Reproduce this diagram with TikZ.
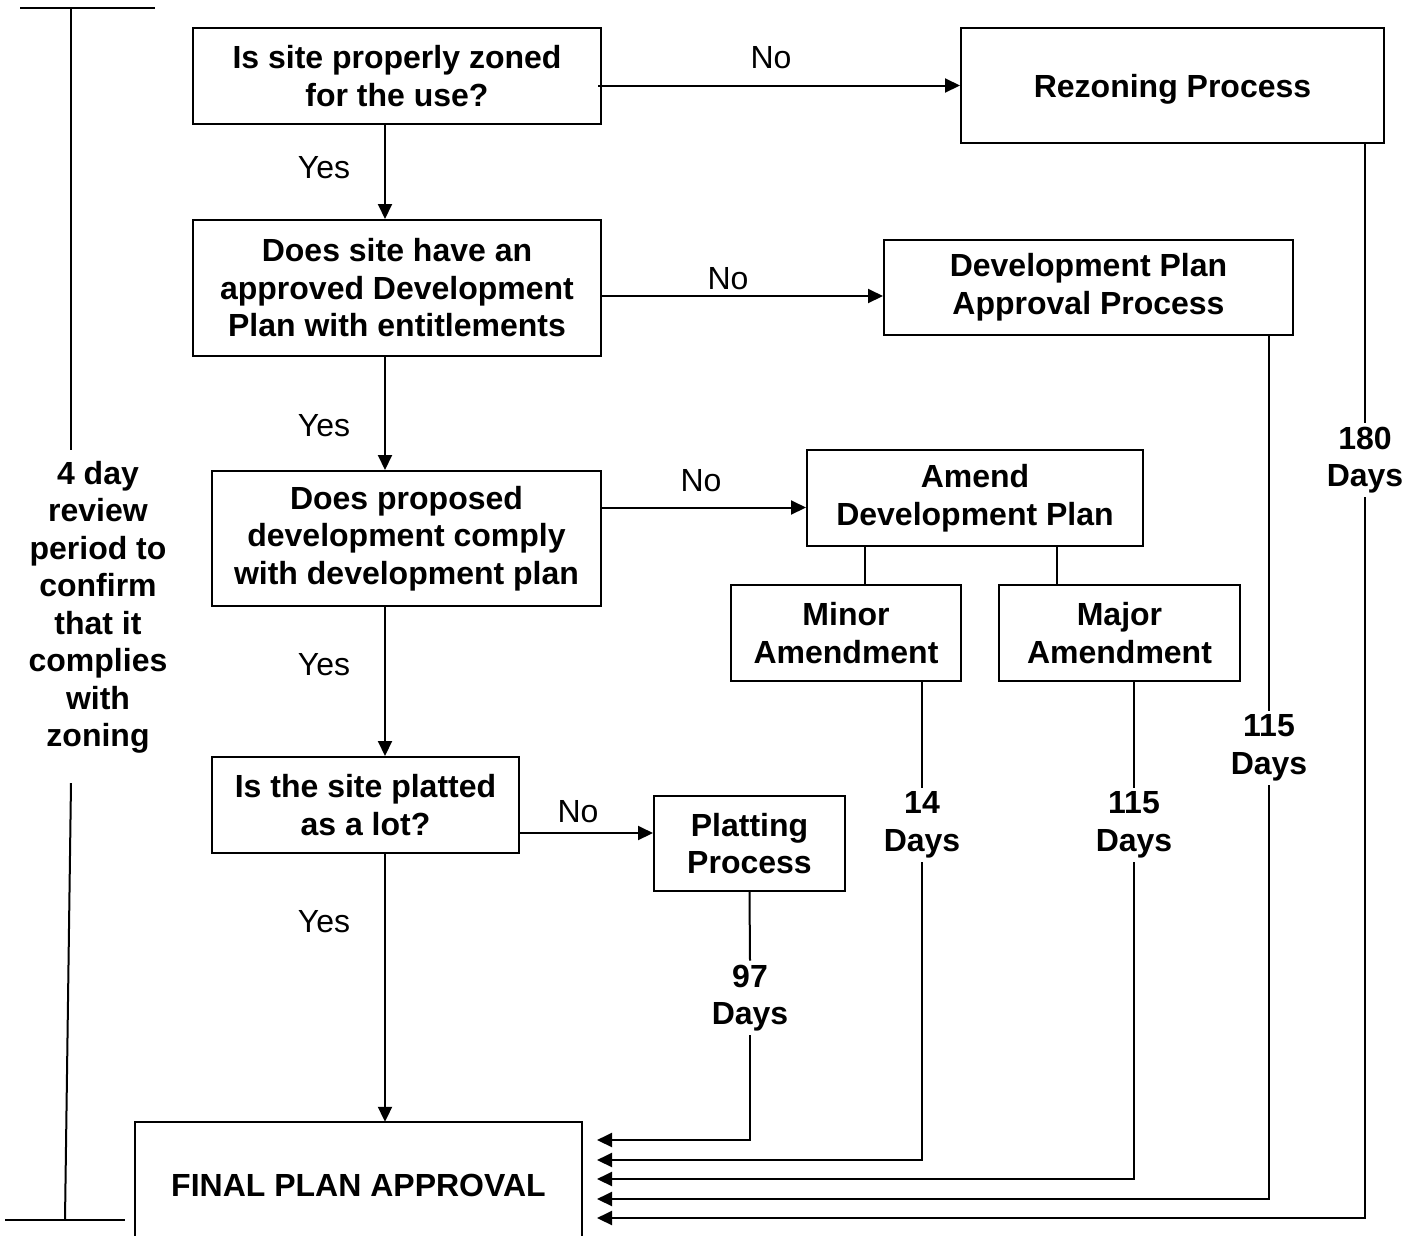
\documentclass[tikz,border=0pt]{standalone}
\usepackage{fontspec}
\setmainfont{Liberation Sans}
\usetikzlibrary{arrows.meta}
\begin{document}
\begin{tikzpicture}[x=1pt,y=-1pt,
  box/.style={draw, line width=2pt, inner sep=0pt, align=center,
    font=\bfseries\fontsize{32}{37.5}\selectfont},
  lbl/.style={font=\fontsize{32}{37.5}\selectfont, inner sep=0pt},
  days/.style={align=center, inner sep=4pt,
    font=\bfseries\fontsize{32}{37.5}\selectfont},
  ln/.style={line width=2pt},
  arr/.style={line width=2pt, -{Triangle[length=15pt,width=14pt]}}]
\clip (0,0) rectangle (1421,1235);
% boxes
\node[box, minimum width=408pt, minimum height=96pt] (q1) at (397,76) {Is site properly zoned\\for the use?};
\node[box, minimum width=423pt, minimum height=115pt, text depth=0pt] (rez) at (1172.5,85.5) {Rezoning Process};
\node[box, minimum width=408pt, minimum height=136pt] (q3) at (397,288) {Does site have an\\approved Development\\Plan with entitlements};
\node[box, minimum width=409pt, minimum height=95pt] (dp) at (1088.5,287) {Development Plan\\Approval Process};
\node[box, minimum width=389pt, minimum height=135pt] (q5) at (406.5,538.5) {Does proposed\\development comply\\with development plan};
\node[box, minimum width=336pt, minimum height=96pt] (amend) at (975,498) {Amend\\Development Plan};
\node[box, minimum width=230pt, minimum height=96pt] (minor) at (846,633) {Minor\\Amendment};
\node[box, minimum width=241pt, minimum height=96pt] (major) at (1119.5,633) {Major\\Amendment};
\node[box, minimum width=307pt, minimum height=96pt] (q9) at (365.5,805) {Is the site platted\\as a lot?};
\node[box, minimum width=191pt, minimum height=95pt] (plat) at (749.5,843.5) {Platting\\Process};
\node[inner sep=0pt, minimum width=447pt, minimum height=126pt, font=\bfseries\fontsize{32}{37.5}\selectfont] (fin) at (358.5,1185) {FINAL PLAN APPROVAL};
\draw[ln] (fin.south west) -- (fin.north west) -- (fin.north east) -- (fin.south east);

% column for yes arrows
\coordinate (col) at (385,0);
\draw[arr] (col |- q1.south) -- (col |- q3.north);
\draw[arr] (col |- q3.south) -- (col |- q5.north);
\draw[arr] (col |- q5.south) -- (col |- q9.north);
\draw[arr] (col |- q9.south) -- (col |- fin.north);
\node[lbl] (y1) at (324,168) {Yes};
\node[lbl] (y2) at (324,426) {Yes};
\node[lbl] (y3) at (324,665) {Yes};
\node[lbl] (y4) at (324,922) {Yes};

% no arrows
\draw[arr] ([xshift=-4pt]q1.east |- rez.west) -- (rez.west);
\node[lbl] (n1) at (771,58) {No};
\draw[arr] ([yshift=-8pt]q3.east) -- ([yshift=-8pt]q3.east -| dp.west);
\node[lbl] (n2) at (728,279) {No};
\draw[arr] ([yshift=31pt]q5.east) -- ([yshift=31pt]q5.east -| amend.west);
\node[lbl] (n3) at (701,481) {No};
\draw[arr] ([yshift=-28pt]q9.east) -- ([yshift=-28pt]q9.east -| plat.west);
\node[lbl] (n4) at (578,812) {No};

% amend branches
\coordinate (ca) at (865,0);
\coordinate (cb) at (1057,0);
\draw[ln] (ca |- amend.south) -- (ca |- minor.north);
\draw[ln] (cb |- amend.south) -- (cb |- major.north);

% days labels
\node[days] (d97) at (750,998) {97\\Days};
\node[days] (d14) at (922,825) {14\\Days};
\node[days] (d115a) at (1134,825) {115\\Days};
\node[days] (d115b) at (1269,748) {115\\Days};
\node[days] (d180) at (1365,460) {180\\Days};

% entry points at final
\coordinate (e1) at (597,1140);
\coordinate (e2) at (597,1160);
\coordinate (e3) at (597,1179);
\coordinate (e4) at (597,1199);
\coordinate (e5) at (597,1218);

\draw[ln] (plat.south) -- (d97.north);
\draw[arr] (d97.south) |- (e1);
\draw[ln] (d14 |- minor.south) -- (d14.north);
\draw[arr] (d14.south) |- (e2);
\draw[ln] (d115a |- major.south) -- (d115a.north);
\draw[arr] (d115a.south) |- (e3);
\draw[ln] (d115b |- dp.south) -- (d115b.north);
\draw[arr] (d115b.south) |- (e4);
\draw[ln] (d180 |- rez.south) -- (d180.north);
\draw[arr] (d180.south) |- (e5);

% left bracket
\node[days, inner sep=0pt] (rev) at (98,607.5) {4 day\\review\\period to\\confirm\\that it\\complies\\with\\zoning};
\coordinate (bt) at (71,8);
\coordinate (bb) at (65,1220);
\draw[ln] (20,8) -- (155,8);
\draw[ln] (bt) -- (bt |- 0,450);
\draw[ln] (71,783) -- (bb);
\draw[ln] (5,1220) -- (125,1220);
\end{tikzpicture}
\end{document}
